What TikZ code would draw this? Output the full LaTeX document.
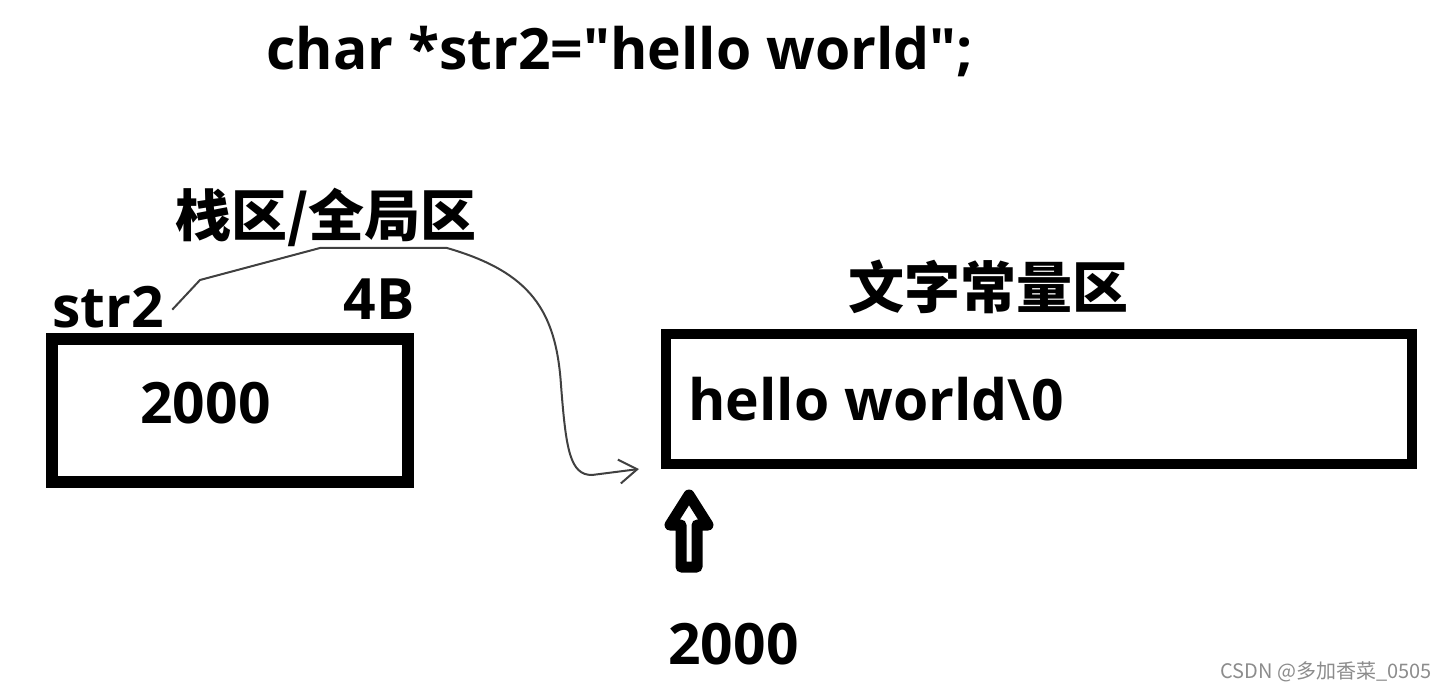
\documentclass[tikz,border=0pt]{standalone}
\usepackage{fontspec}
\setmainfont{Open Sans}[Ligatures=TeXOff]
\newfontfamily\cjkfont{Noto Sans CJK SC}
\usetikzlibrary{arrows.meta, positioning}

\begin{document}
\begin{tikzpicture}[
    x=0.5pt, y=-0.5pt,
    membox/.style={draw, line width=6pt, minimum width=178pt, minimum height=71.5pt, inner sep=0pt},
    code/.style={font=\bfseries\fontsize{28.5}{30}\selectfont, inner sep=0pt},
    tag/.style={font=\cjkfont\bfseries\fontsize{28}{30}\selectfont, inner sep=0pt},
    ptr/.style={-{Straight Barb[length=9pt,width=12pt]}, line width=1pt, draw=black!75},
    hollow/.style={draw, fill=white, line width=5.5pt, line join=round},
    credit/.style={font=\cjkfont\fontsize{10}{12}\selectfont, text=black!45, inner sep=0pt}
  ]
    \useasboundingbox (0,0) rectangle (1448,690);

    % declaration
    \node[code, anchor=base] (decl) at (620,70) {char *str2="hello world";};

    % pointer variable
    \node[membox] (stackbox) at (230,410.5) {};
    \node[code, anchor=base west] (value) at (140,423) {2000};
    \node[code, anchor=base west] (str2) at (52,328) {str2};
    \node[code, anchor=base east] (size) at (415,320) {4B};
    \node[tag, anchor=base west] (stacktag) at (175,236) {栈区/全局区};

    % string literal
    \node[membox, line width=5pt, minimum width=373pt, minimum height=65pt] (constbox) at (1039,399) {};
    \node[code, anchor=base west] (text) at (688,420) {hello world\textbackslash 0};
    \node[tag, anchor=base] (consttag) at (988,308) {文字常量区};

    % pointer
    \coordinate[left=11pt of constbox.south west] (ptrend);
    \draw[ptr] ([xshift=4pt,yshift=-1pt]str2.east) -- (200,280) -- (320,248) -- (447,248)
      .. controls (530,272) and (556,310) .. (561,385)
      .. controls (566,450) and (570,475) .. (592,475) -- (ptrend);

    % address
    \draw[hollow] (689,495) -- (708,525) -- (697,525) -- (697,567) -- (681,567) -- (681,525) -- (670,525) -- cycle;
    \node[code, anchor=base west] (addr) at (668,664) {2000};

    \node[credit, anchor=base east] (mark) at (1432,678) {CSDN @多加香菜\_0505};
  \end{tikzpicture}
\end{document}
